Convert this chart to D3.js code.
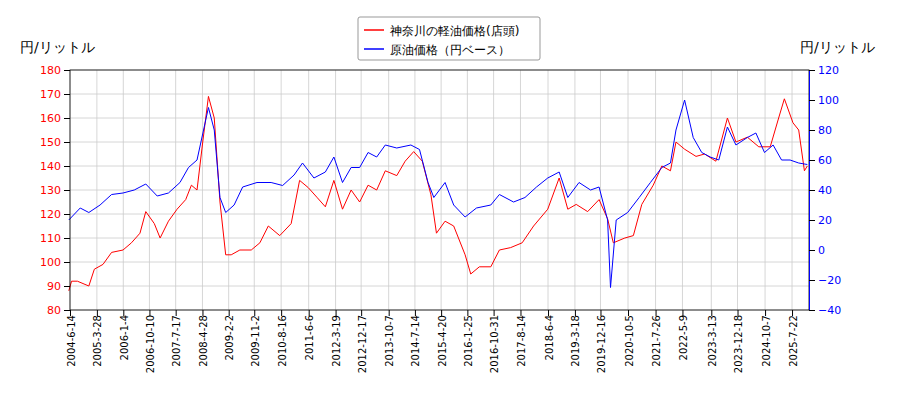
<!DOCTYPE html><html><head><meta charset="utf-8"><script src="https://cdn.jsdelivr.net/npm/d3@7"></script>
<style>body{margin:0;background:#fff}text{font-family:"DejaVu Sans",sans-serif}</style></head><body><svg id="c" width="900" height="400"></svg>
<script>
const xTicks=["2004-06-14","2005-03-28","2006-01-04","2006-10-10","2007-07-17","2008-04-28","2009-02-02","2009-11-02","2010-08-16","2011-06-06","2012-03-19","2012-12-17","2013-10-07","2014-07-14","2015-04-20","2016-01-25","2016-10-31","2017-08-14","2018-06-04","2019-03-18","2019-12-16","2020-10-05","2021-07-26","2022-05-09","2023-03-13","2023-12-18","2024-10-07","2025-07-22"];
const dieselDates=["2004-06","2004-07","2004-09","2005-01","2005-03","2005-06","2005-09","2006-01","2006-04","2006-07","2006-09","2006-12","2007-02","2007-05","2007-08","2007-11","2008-01","2008-03","2008-05","2008-07","2008-09","2008-11","2009-01","2009-03","2009-06","2009-10","2010-01","2010-04","2010-08","2010-12","2011-03","2011-06","2011-09","2011-12","2012-03","2012-06","2012-09","2012-12","2013-03","2013-06","2013-09","2014-01","2014-04","2014-07","2014-10","2015-01","2015-03","2015-06","2015-09","2016-01","2016-03","2016-06","2016-10","2017-01","2017-05","2017-09","2018-01","2018-06","2018-10","2019-01","2019-04","2019-08","2019-12","2020-03","2020-05","2020-09","2020-12","2021-03","2021-07","2021-10","2022-01","2022-03","2022-06","2022-10","2023-01","2023-05","2023-09","2023-12","2024-04","2024-08","2024-12","2025-03","2025-05","2025-08","2025-10","2025-12","2026-01"];
const dieselValues=[88,92,92,90,97,99,104,105,108,112,121,116,110,117,122,126,132,130,150,169,160,125,103,103,105,105,108,115,111,116,134,131,127,123,134,122,130,125,132,130,138,136,142,146,142,128,112,117,115,103,95,98,98,105,106,108,115,122,135,122,124,121,126,118,108,110,111,124,132,140,138,150,147,144,145,142,160,150,152,148,148,160,168,158,155,138,140];
const crudeDates=["2004-06","2004-10","2005-01","2005-05","2005-09","2006-01","2006-05","2006-09","2007-01","2007-05","2007-09","2007-12","2008-03","2008-07","2008-09","2008-11","2009-01","2009-04","2009-07","2009-12","2010-05","2010-09","2011-01","2011-04","2011-08","2011-12","2012-03","2012-06","2012-09","2012-12","2013-03","2013-06","2013-09","2014-01","2014-06","2014-09","2014-12","2015-02","2015-06","2015-09","2016-01","2016-05","2016-10","2017-01","2017-06","2017-10","2018-02","2018-06","2018-10","2019-01","2019-05","2019-09","2019-12","2020-03","2020-04","2020-06","2020-10","2021-02","2021-06","2021-10","2022-01","2022-03","2022-06","2022-09","2022-12","2023-03","2023-06","2023-09","2023-12","2024-04","2024-07","2024-10","2025-01","2025-04","2025-07","2025-10","2026-01"];
const crudeValues=[20,28,25,30,37,38,40,44,36,38,45,55,60,95,80,35,25,30,42,45,45,43,50,58,48,52,62,45,55,55,65,62,70,68,70,67,45,35,45,30,22,28,30,37,32,35,42,48,52,35,45,40,42,20,-25,20,25,35,45,55,58,80,100,75,65,62,60,82,70,75,78,65,70,60,60,58,57];
const leftTicks=[80,90,100,110,120,130,140,150,160,170,180];
const rightTicks=[-40,-20,0,20,40,60,80,100,120];
const svg=d3.select("#c");
const L=70,R=809,T=70,B=310;
const p=d3.timeParse("%Y-%m-%d"),pm=d3.timeParse("%Y-%m");
const x=d3.scaleTime().domain([p("2004-06-14"),p("2026-01-19")]).range([L,R]);
const yL=d3.scaleLinear().domain([80,180]).range([B,T]);
const yR=d3.scaleLinear().domain([-40,120]).range([B,T]);
const g=svg.append("g");
xTicks.forEach(t=>g.append("line").attr("x1",x(p(t))).attr("x2",x(p(t))).attr("y1",T).attr("y2",B).attr("stroke","#ccc").attr("stroke-width",0.8));
leftTicks.forEach(t=>g.append("line").attr("x1",L).attr("x2",R).attr("y1",yL(t)).attr("y2",yL(t)).attr("stroke","#ccc").attr("stroke-width",0.8));
const line=(ys)=>d3.line().x(d=>x(d[0])).y(d=>ys(d[1]));
svg.append("path").datum(dieselDates.map((d,i)=>[pm(d),dieselValues[i]])).attr("d",line(yL)).attr("fill","none").attr("stroke","red").attr("stroke-width",1);
svg.append("path").datum(crudeDates.map((d,i)=>[pm(d),crudeValues[i]])).attr("d",line(yR)).attr("fill","none").attr("stroke","blue").attr("stroke-width",1);
svg.append("rect").attr("x",L).attr("y",T).attr("width",R-L).attr("height",B-T).attr("fill","none").attr("stroke","#000").attr("stroke-width",0.8);
const ax=svg.append("g").attr("transform",`translate(0,${B})`).call(d3.axisBottom(x).tickValues(xTicks.map(p)).tickFormat(d3.timeFormat("%Y-%-m-%-d")).tickSizeOuter(0));
ax.selectAll("text").attr("transform","rotate(-90)").attr("text-anchor","end").attr("dx","-0.5em").attr("dy","-0.5em").attr("font-size",10).attr("font-family","DejaVu Sans Mono");
ax.select(".domain").remove();
const al=svg.append("g").attr("transform",`translate(${L},0)`).call(d3.axisLeft(yL).tickValues(leftTicks).tickSizeOuter(0));
al.selectAll("text").attr("fill","red").attr("font-size",11).attr("font-family","DejaVu Sans");al.select(".domain").remove();
const ar=svg.append("g").attr("transform",`translate(${R},0)`).call(d3.axisRight(yR).tickValues(rightTicks).tickSizeOuter(0));
ar.selectAll("text").attr("fill","blue").attr("font-size",11).attr("font-family","DejaVu Sans");ar.select(".domain").attr("stroke","blue");
svg.append("text").attr("x",20).attr("y",52).attr("font-size",14).text("円/リットル").attr("font-family","Noto Sans CJK JP");
svg.append("text").attr("x",800).attr("y",52).attr("font-size",14).text("円/リットル").attr("font-family","Noto Sans CJK JP");
const lg=svg.append("g");
lg.append("rect").attr("x",358).attr("y",17).attr("width",182).attr("height",43).attr("fill","#fff").attr("stroke","#999").attr("rx",2);
[["神奈川の軽油価格(店頭)","red"],["原油価格（円ベース）","blue"]].forEach((d,i)=>{
lg.append("line").attr("x1",364).attr("x2",384).attr("y1",30+i*19).attr("y2",30+i*19).attr("stroke",d[1]).attr("stroke-width",1.5);
lg.append("text").attr("x",390).attr("y",35+i*19).attr("font-size",12).attr("font-family","Noto Sans CJK JP").text(d[0]);});
</script></body></html>
